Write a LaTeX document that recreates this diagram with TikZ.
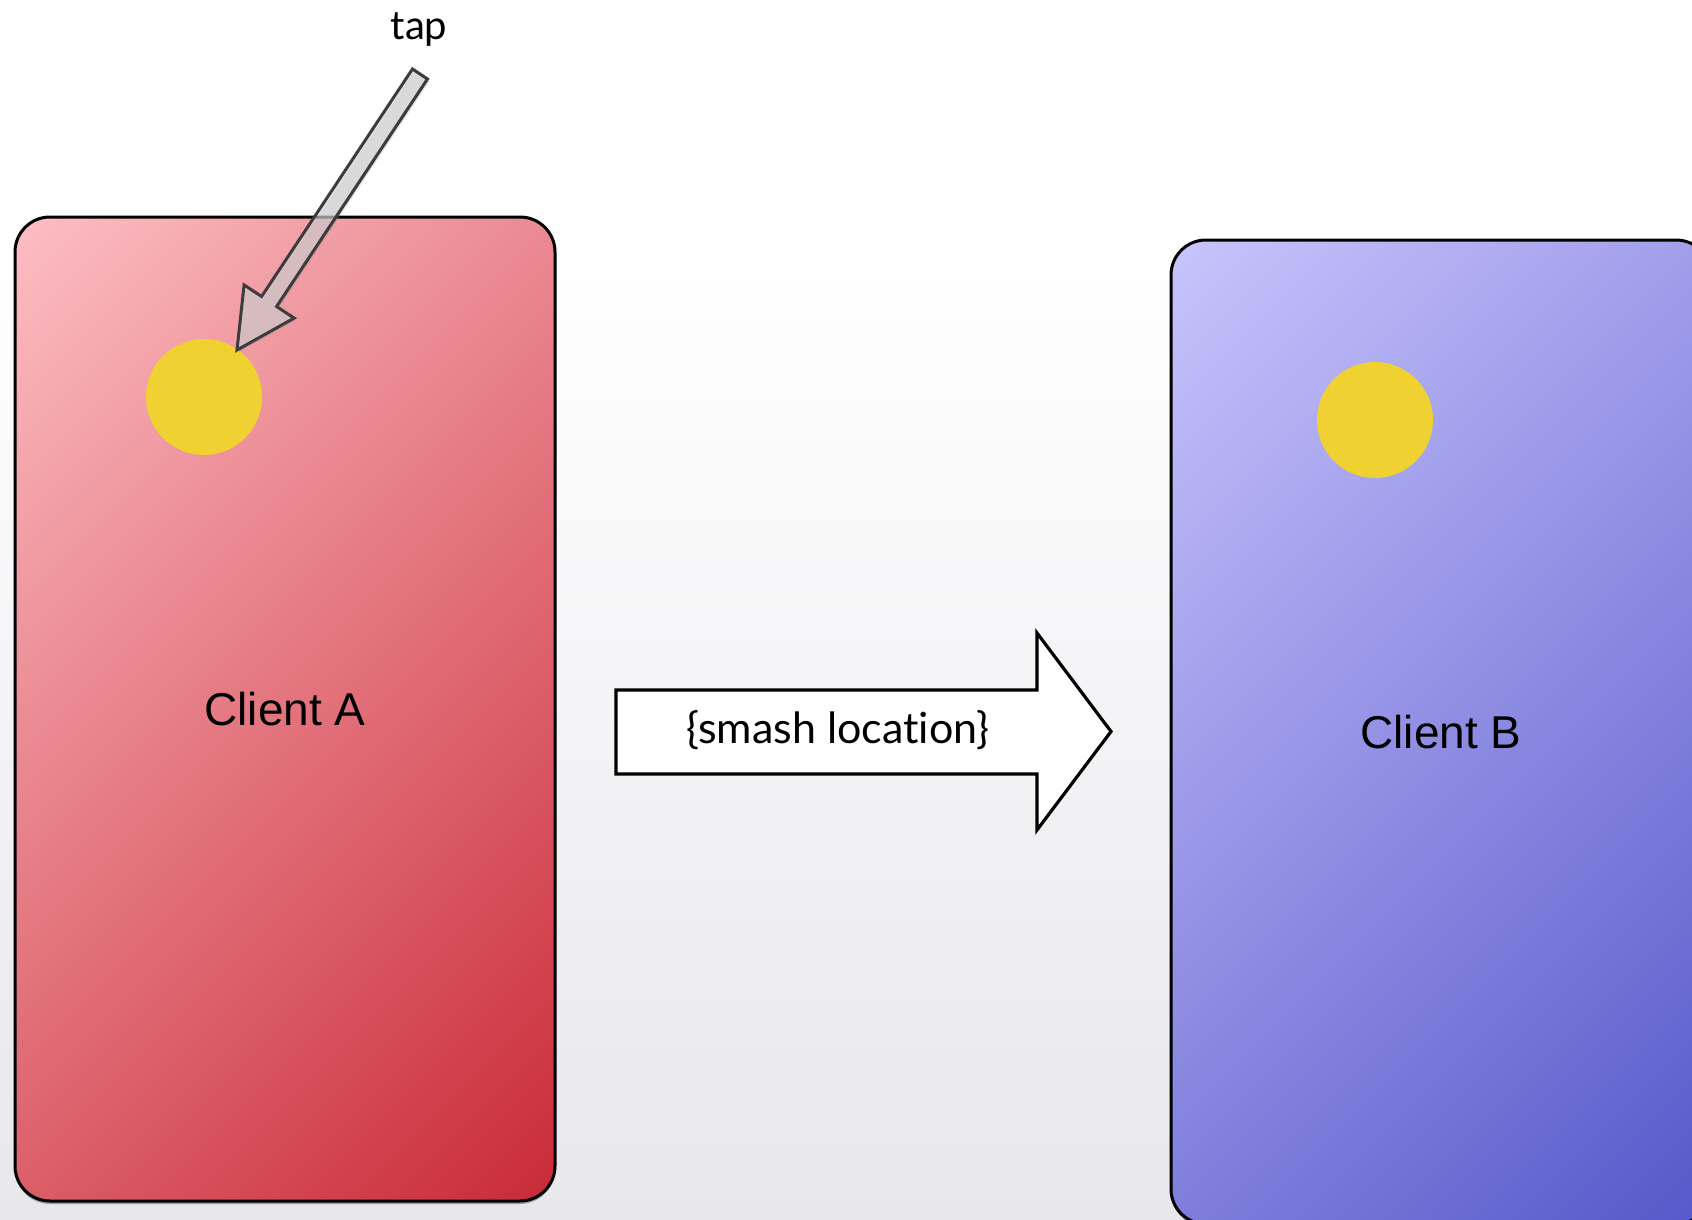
\documentclass[tikz,border=0pt]{standalone}
\usepackage{fontspec}
\setmainfont{Lato}[Ligatures=NoCommon]
\newfontfamily\arialf{Liberation Sans}
\usetikzlibrary{shadows}
\definecolor{pinkTL}{RGB}{253,190,196}
\definecolor{redBR}{RGB}{201,42,55}
\definecolor{blueTL}{RGB}{200,196,252}
\definecolor{blueBR}{RGB}{86,87,202}
\definecolor{dotyellow}{RGB}{239,210,50}
\definecolor{bgbottom}{RGB}{231,231,236}
\definecolor{arrowedge}{RGB}{60,60,60}
\tikzset{
  client/.style={rectangle, draw=black, line width=1.5pt, rounded corners=17.5pt,
    minimum width=270pt, minimum height=492pt, inner sep=0pt,
    font=\arialf\fontsize{23}{27}\selectfont},
  clientshadow/.style={rounded corners=17.5pt, fill=white,
    drop shadow={shadow xshift=0pt, shadow yshift=-1.5pt, opacity=0.7}},
  dot/.style={circle, fill=dotyellow, draw=none, minimum size=58pt, inner sep=0pt},
  lbl/.style={font=\fontsize{21.5}{25}\selectfont, inner sep=0pt},
  bigarrow/.style={fill=white, draw=black, line width=1.6pt, line join=miter},
  taparrow/.style={fill=black!16, fill opacity=0.6, draw=arrowedge, line width=1.5pt, line join=miter}
}
\begin{document}
\begin{tikzpicture}[x=0.5pt,y=-0.5pt]
\useasboundingbox (0,0) rectangle (1692,1220);
\clip (0,0) rectangle (1692,1220);
\fill[white] (0,0) rectangle (1692,1220);
\shade[top color=white, bottom color=bgbottom] (0,260) rectangle (1692,1220);

% Client A body: shadow and diagonal gradient
\path[clientshadow] (15,217) rectangle (555,1201);
\begin{scope}
  \clip[rounded corners=17.5pt] (15,217) rectangle (555,1201);
  \begin{scope}[transform canvas={rotate around={-45:(15,217)}}]
    \shade[left color=pinkTL, right color=redBR] (15,-233) rectangle (1093,967);
  \end{scope}
\end{scope}
\node[client] (clientA) at (285,709) {Client A};
\node[dot] (dotA) at (204,397) {};

% tap label and arrow
\node[lbl, font=\fontsize{20}{24}\selectfont] (tap) at (419,30) {tap};
\coordinate (tail) at (420,74);
\coordinate (tip) at (237,350);
\draw[taparrow, drop shadow={shadow xshift=1pt, shadow yshift=-1pt, opacity=0.25}]
  (412.5,69) -- (427.5,79) -- (276.6,306.5) -- (294.1,318.1) -- (tip)
  -- (244.1,284.9) -- (261.6,296.5) -- cycle;

% message arrow
\draw[bigarrow]
  (616,690) -- (1037,690) -- (1037,633) -- (1111,731.5) -- (1037,830)
  -- (1037,774) -- (616,774) -- cycle;
\node[lbl] (msg) at (838,730) {\{smash locat\kern0pt ion\}};

% Client B body: shadow and diagonal gradient
\path[clientshadow] (1171,240) rectangle (1711,1224);
\begin{scope}
  \clip[rounded corners=17.5pt] (1171,240) rectangle (1711,1224);
  \begin{scope}[transform canvas={rotate around={-45:(1171,240)}}]
    \shade[left color=blueTL, right color=blueBR] (1171,-210) rectangle (2249,990);
  \end{scope}
\end{scope}
\node[client] (clientB) at (1441,732) {Client B};
\node[dot] (dotB) at (1375,420) {};
\end{tikzpicture}
\end{document}
